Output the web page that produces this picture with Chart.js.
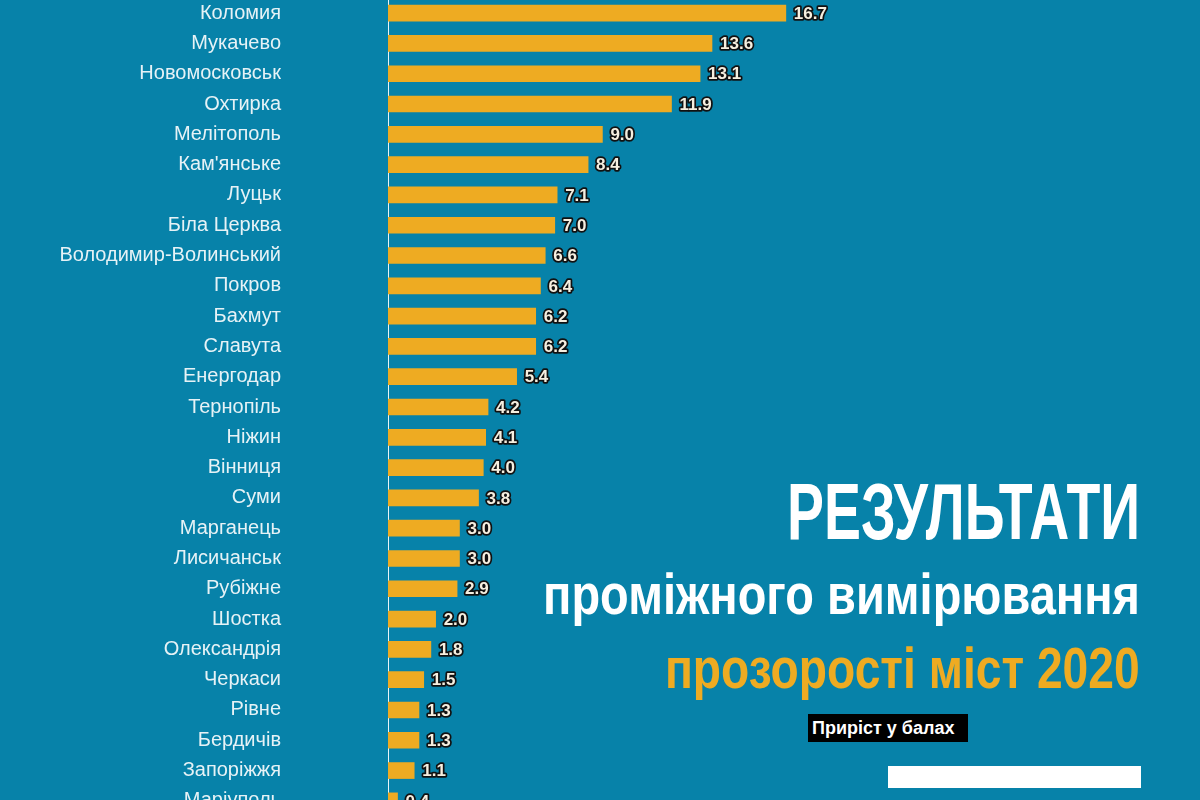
<!DOCTYPE html>
<html>
<head>
<meta charset="utf-8">
<script src="https://cdn.jsdelivr.net/npm/chart.js@4"></script>
<style>
  html, body { margin: 0; padding: 0; width: 1200px; height: 800px; overflow: hidden; background: #0782a9; }
  #chart { position: absolute; left: 0; top: -2px; }
  .title { position: absolute; right: 60px; line-height: 1; font-family: "Liberation Sans", Arial, sans-serif;
           font-weight: bold; white-space: nowrap; transform-origin: right center; }
  #t1 { top: 472px; font-size: 80px; color: #fff; }
  #t2 { top: 565px; font-size: 58px; color: #fff; }
  #t3 { top: 639px; font-size: 58px; color: #eeab22; }
  #unit { position: absolute; left: 808px; top: 714px; width: 160px; height: 28px; background: #000; color: #fff;
          font: bold 18px "Liberation Sans", Arial, sans-serif; line-height: 28px; text-indent: 4px; white-space: nowrap; }
  #box { position: absolute; left: 888px; top: 766px; width: 253px; height: 22px; background: #fff; }
</style>
</head>
<body>
<canvas id="chart" width="1200" height="818"></canvas>
<div class="title" id="t1">РЕЗУЛЬТАТИ</div>
<div class="title" id="t2">проміжного вимірювання</div>
<div class="title" id="t3">прозорості міст 2020</div>
<div id="unit">Приріст у балах</div>
<div id="box"></div>
<script>
// дані
const cities = ['Коломия', 'Мукачево', 'Новомосковськ', 'Охтирка', 'Мелітополь', "Кам'янське", 'Луцьк',
  'Біла Церква', 'Володимир-Волинський', 'Покров', 'Бахмут', 'Славута', 'Енергодар', 'Тернопіль', 'Ніжин',
  'Вінниця', 'Суми', 'Марганець', 'Лисичанськ', 'Рубіжне', 'Шостка', 'Олександрія', 'Черкаси', 'Рівне',
  'Бердичів', 'Запоріжжя', 'Маріуполь'];
const growth = [16.7, 13.6, 13.1, 11.9, 9.0, 8.4, 7.1, 7.0, 6.6, 6.4, 6.2, 6.2, 5.4, 4.2, 4.1, 4.0, 3.8,
  3.0, 3.0, 2.9, 2.0, 1.8, 1.5, 1.3, 1.3, 1.1, 0.4];

// заголовок вузьким шрифтом: стискаємо по ширині
const titleWidths = { t1: 353, t2: 597, t3: 475 };
Object.entries(titleWidths).forEach(([id, w]) => {
  const el = document.getElementById(id);
  el.style.transform = 'scaleX(' + (w / el.offsetWidth) + ')';
});

// підписи значень праворуч від стовпчиків
const valueLabels = {
  id: 'valueLabels',
  afterDatasetsDraw(chart) {
    const ctx = chart.ctx;
    const meta = chart.getDatasetMeta(0);
    ctx.save();
    ctx.font = 'bold 17px "Liberation Sans", Arial, sans-serif';
    ctx.textBaseline = 'middle';
    ctx.textAlign = 'left';
    ctx.lineJoin = 'round';
    meta.data.forEach((bar, i) => {
      const txt = growth[i].toFixed(1);
      const x = bar.x + 8;
      const y = bar.y + 1;
      ctx.lineWidth = 3.5;
      ctx.strokeStyle = '#111';
      ctx.strokeText(txt, x, y);
      ctx.fillStyle = '#f6efe0';
      ctx.fillText(txt, x, y);
    });
    ctx.restore();
  }
};

new Chart(document.getElementById('chart'), {
  type: 'bar',
  data: {
    labels: cities,
    datasets: [{
      data: growth,
      backgroundColor: '#eeab22',
      barThickness: 16,
    }],
  },
  options: {
    indexAxis: 'y',
    responsive: false,
    animation: false,
    layout: { padding: { left: 0, right: 2, top: 0, bottom: 0 } },
    plugins: {
      legend: { display: false },
      tooltip: { enabled: false },
    },
    scales: {
      x: {
        display: false,
        min: 0,
        max: 34,
      },
      y: {
        // фіксуємо ширину осі і прибираємо вертикальні відступи від padding
        afterFit(scale) {
          scale.width = 388;
          scale.paddingTop = 0;
          scale.paddingBottom = 0;
        },
        grid: { display: false, drawTicks: false },
        border: { display: true, color: '#e8f4f8', width: 1 },
        ticks: {
          padding: 107,
          color: '#e6f2f6',
          font: { family: '"Liberation Sans", Arial, sans-serif', size: 20 },
        },
      },
    },
  },
  plugins: [valueLabels],
});
</script>
</body>
</html>
